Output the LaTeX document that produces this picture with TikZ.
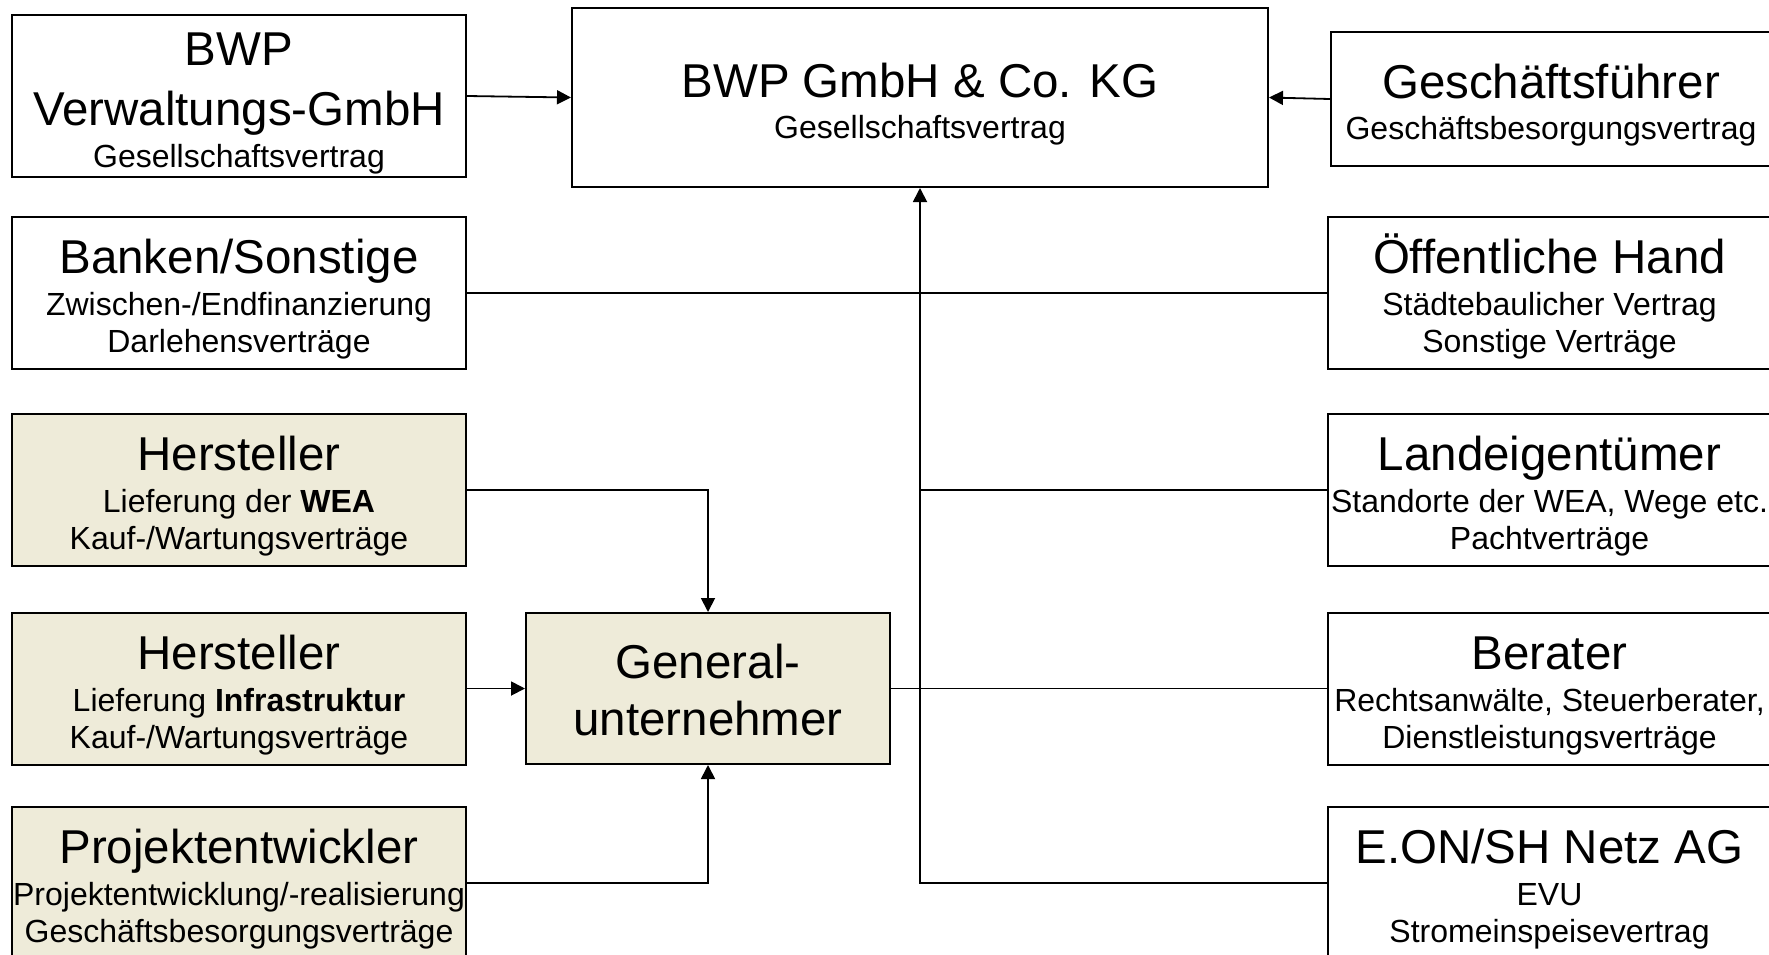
\documentclass[tikz,border=0pt]{standalone}
\usepackage{fontspec}
\setmainfont{Liberation Sans}
\usetikzlibrary{arrows.meta}
\definecolor{beige}{RGB}{238,235,217}
\newcommand{\Lg}{\fontsize{47.5}{57}\selectfont}
\newcommand{\Hd}[1]{{\Lg\rule{0pt}{47pt}#1}}
\begin{document}
\begin{tikzpicture}[x=1pt,y=-1pt,
  box/.style={draw, line width=2pt, inner sep=0pt, align=center,
    font=\fontsize{32}{37}\selectfont},
  info/.style={box, fill=white},
  tinfo/.style={info, fill=beige},
  gu/.style={box, fill=beige},
  conn/.style={line width=1.8pt},
  arr/.style={conn, -{Triangle[length=14pt,width=14pt]}}]
\useasboundingbox (0,0) rectangle (1769,954);
\clip (0,0) rectangle (1769,954);
\fill[white] (0,0) rectangle (1769,954);

% left column
\node[info, minimum width=454pt, minimum height=162pt] (bwpv) at (239,96)
  {\Hd{BWP}\\[23pt]{\Lg Verwaltungs-GmbH}\\[5pt]Gesellschaftsvertrag};
\node[info, minimum width=454pt, minimum height=152pt] (bank) at (239,293)
  {\Hd{Banken/Sonstige}\\[5pt]Zwischen-/Endfinanzierung\\Darlehensverträge};
\node[tinfo, minimum width=454pt, minimum height=152pt] (h1) at (239,490)
  {\Hd{Hersteller}\\[5pt]Lieferung der \textbf{WEA}\\Kauf-/Wartungsverträge};
\node[tinfo, minimum width=454pt, minimum height=152pt] (h2) at (239,688.5)
  {\Hd{Hersteller}\\[5pt]Lieferung \textbf{Infrastruktur}\\Kauf-/Wartungsverträge};
\node[tinfo, minimum width=454pt, minimum height=152pt] (proj) at (239,883)
  {\Hd{Projektentwickler}\\[5pt]Projektentwicklung/-realisierung\\Geschäftsbesorgungsverträge};

% centre
\node[info, minimum width=696pt, minimum height=179pt] (kg) at (920,97.5)
  {\Hd{BWP GmbH \& Co. KG}\\[4pt]Gesellschaftsvertrag};
\node[gu, minimum width=364pt, minimum height=151pt] (gu) at (708,688.5)
  {{\Lg\rule{0pt}{38pt}General-}\\[20pt]{\Lg unternehmer}};

% right column
\node[info, minimum width=440pt, minimum height=134pt] (gf) at (1551,99)
  {\Hd{Geschäftsführer}\\[4pt]Geschäftsbesorgungsvertrag};
\node[info, minimum width=443pt, minimum height=152pt] (oeff) at (1549.5,293)
  {\Hd{Öffentliche Hand}\\[5pt]Städtebaulicher Vertrag\\Sonstige Verträge};
\node[info, minimum width=443pt, minimum height=152pt] (land) at (1549.5,490)
  {\Hd{Landeigentümer}\\[5pt]Standorte der WEA, Wege etc.\\Pachtverträge};
\node[info, minimum width=443pt, minimum height=152pt] (ber) at (1549.5,688.5)
  {\Hd{Berater}\\[5pt]Rechtsanwälte, Steuerberater,\\Dienstleistungsverträge};
\node[info, minimum width=443pt, minimum height=152pt] (eon) at (1549.5,883)
  {\Hd{E.ON/SH Netz AG}\\[5pt]EVU\\Stromeinspeisevertrag};

% connectors
\draw[arr] (bwpv.east) -- (kg.west);
\draw[arr] (gf.west) -- (kg.east);
\draw[conn] (bank.east) -- (oeff.west);
\draw[arr] (eon.west) -| (kg.south);
\draw[conn] (land.west) -- (land.west -| kg.south);
\draw[conn] (gu.east) -- (ber.west);
\draw[arr] (h1.east) -| (gu.north);
\draw[arr] (h2.east) -- (gu.west);
\draw[arr] (proj.east) -| (gu.south);
\end{tikzpicture}
\end{document}
